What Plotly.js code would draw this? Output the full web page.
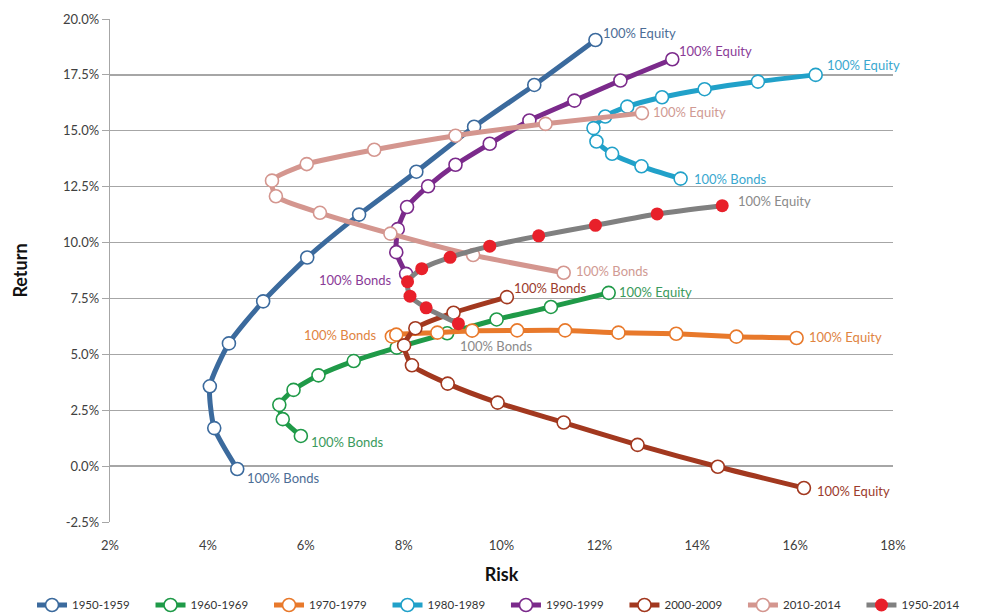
<!DOCTYPE html>
<html>
<head>
<meta charset="utf-8">
<script src="https://cdn.plot.ly/plotly-3.0.1.min.js"></script>
<style>html,body{margin:0;padding:0;background:#fff;}#chart{width:981px;height:614px;}</style>
</head>
<body>
<div id="chart"></div>
<script>
// Series names
const seriesNames = ["1950-1959","1960-1969","1970-1979","1980-1989","1990-1999","2000-2009","2010-2014","1950-2014"];

// Risk (x, %) and Return (y, %) for each series, from 100% Bonds to 100% Equity
const risk1950s = [4.60,4.13,4.04,4.43,5.13,6.03,7.09,8.26,9.44,10.67,11.92];
const ret1950s  = [-0.13,1.70,3.57,5.49,7.37,9.33,11.25,13.17,15.18,17.05,19.06];

const risk1960s = [5.90,5.53,5.46,5.75,6.26,6.98,7.86,8.89,9.90,11.01,12.19];
const ret1960s  = [1.35,2.10,2.74,3.41,4.06,4.70,5.30,5.94,6.56,7.12,7.75];

const risk1970s = [7.76,7.85,8.69,9.40,10.32,11.30,12.39,13.57,14.80,16.03];
const ret1970s  = [5.80,5.88,5.97,6.06,6.07,6.07,5.97,5.92,5.79,5.73];

const risk1980s = [13.66,12.86,12.26,11.94,11.88,12.12,12.57,13.28,14.15,15.24,16.42];
const ret1980s  = [12.86,13.41,13.97,14.52,15.12,15.64,16.08,16.50,16.86,17.20,17.50];

const risk1990s = [8.05,7.85,7.88,8.07,8.50,9.06,9.76,10.57,11.49,12.43,13.49];
const ret1990s  = [8.60,9.57,10.60,11.59,12.52,13.48,14.42,15.46,16.35,17.25,18.20];

const risk2000s = [10.11,9.02,8.24,8.01,8.17,8.90,9.92,11.27,12.78,14.42,16.18];
const ret2000s  = [7.56,6.86,6.17,5.40,4.51,3.69,2.84,1.95,0.95,-0.03,-0.98];

const risk2010s = [11.27,9.42,7.73,6.29,5.39,5.31,6.02,7.40,9.06,10.90,12.87];
const ret2010s  = [8.65,9.44,10.40,11.33,12.07,12.77,13.51,14.15,14.78,15.31,15.79];

const riskAll = [9.12,8.46,8.13,8.08,8.37,8.95,9.76,10.76,11.92,13.18,14.51];
const retAll  = [6.37,7.08,7.60,8.25,8.83,9.34,9.84,10.30,10.77,11.28,11.65];

const riskSeries = [risk1950s,risk1960s,risk1970s,risk1980s,risk1990s,risk2000s,risk2010s,riskAll];
const retSeries  = [ret1950s,ret1960s,ret1970s,ret1980s,ret1990s,ret2000s,ret2010s,retAll];

const lineColors  = ["#3b6a9d","#1f9a48","#e8792b","#21a1c9","#7b2a8b","#a2381f","#d4968f","#808080"];
const labelColors = ["#4c6d96","#3a9a5c","#e0843f","#3aa8cf","#8a3b97","#9b3b2c","#d09a93","#8a8a8a"];

const xTicks = [2,4,6,8,10,12,14,16,18];
const xTickText = ["2%","4%","6%","8%","10%","12%","14%","16%","18%"];
const yTicks = [-2.5,0,2.5,5,7.5,10,12.5,15,17.5,20];
const yTickText = ["-2.5%","0.0%","2.5%","5.0%","7.5%","10.0%","12.5%","15.0%","17.5%","20.0%"];

const traces = seriesNames.map((name,i) => {
  const isAll = i === 7;
  return {
    type: "scatter",
    mode: "lines+markers",
    name: name,
    legend: i < 4 ? "legend" : "legend2",
    x: riskSeries[i],
    y: retSeries[i],
    line: {color: lineColors[i], width: 5, shape: "spline", smoothing: 0.6},
    marker: isAll
      ? {symbol: "circle", size: 13, color: "#e8202a", line: {color: "#e8202a", width: 0}}
      : {symbol: "circle", size: 13, color: "#ffffff", line: {color: lineColors[i], width: 1.6}},
    hoverinfo: "x+y+name"
  };
});

// End-point labels: [series index, point index, text, xanchor, xshift, yshift]
const endLabels = [
  [0,10,"100% Equity","left",6,7],
  [0,0,"100% Bonds","left",8,-9],
  [1,10,"100% Equity","left",8,1],
  [1,0,"100% Bonds","left",8,-6],
  [2,0,"100% Bonds","right",-13,1],
  [2,9,"100% Equity","left",10,1],
  [3,10,"100% Equity","left",9,10],
  [3,0,"100% Bonds","left",11,0],
  [4,10,"100% Equity","left",5,8],
  [4,0,"100% Bonds","right",-12,-6],
  [5,0,"100% Bonds","left",5,9],
  [5,10,"100% Equity","left",11,-3],
  [6,10,"100% Equity","left",9,1],
  [6,0,"100% Bonds","left",10,2],
  [7,10,"100% Equity","left",14,5],
  [7,0,"100% Bonds","left",0,-22]
];
const annotations = endLabels.map(a => ({
  x: riskSeries[a[0]][a[1]], y: retSeries[a[0]][a[1]],
  xref: "x", yref: "y", text: a[2], showarrow: false,
  xanchor: a[3], yanchor: "middle", xshift: a[4], yshift: a[5],
  font: {family: "Lato, 'Open Sans', sans-serif", size: 13, color: labelColors[a[0]]}
}));

const legendCommon = {
  orientation: "h", xanchor: "left", y: -0.165, yanchor: "middle",
  font: {size: 11.5, color: "#333333"}, entrywidth: 73.5, entrywidthmode: "pixels",
  itemwidth: 30, tracegroupgap: 0, bgcolor: "rgba(0,0,0,0)"
};

const layout = {
  width: 981, height: 614,
  margin: {l: 110, r: 88, t: 19, b: 92, autoexpand: false},
  paper_bgcolor: "#ffffff", plot_bgcolor: "#ffffff",
  font: {family: "Lato, 'Open Sans', sans-serif", color: "#404040"},
  showlegend: true,
  legend: Object.assign({}, legendCommon, {x: -0.0996}),
  legend2: Object.assign({}, legendCommon, {x: 0.5057}),
  xaxis: {
    range: [2, 18], tickvals: xTicks, ticktext: xTickText,
    showgrid: false, zeroline: false, showline: false, ticks: "",
    ticklabelstandoff: 14,
    tickfont: {size: 13, color: "#404040"},
    title: {text: "Risk", font: {size: 18, color: "#111111", family: "Lato, sans-serif", weight: "bold"}, standoff: 16}
  },
  yaxis: {
    range: [-2.5, 20], tickvals: yTicks, ticktext: yTickText,
    showgrid: true, gridcolor: "#a6a6a6", gridwidth: 1.3, zeroline: false,
    showline: true, linecolor: "#a6a6a6", linewidth: 1.3,
    ticks: "outside", ticklen: 7, tickcolor: "#a6a6a6",
    tickfont: {size: 13, color: "#404040"},
    title: {text: "Return", font: {size: 18, color: "#111111", family: "Lato, sans-serif", weight: "bold"}, standoff: 30}
  },
  annotations: annotations
};

Plotly.newPlot("chart", traces, layout, {displayModeBar: false, staticPlot: true});
</script>
</body>
</html>
